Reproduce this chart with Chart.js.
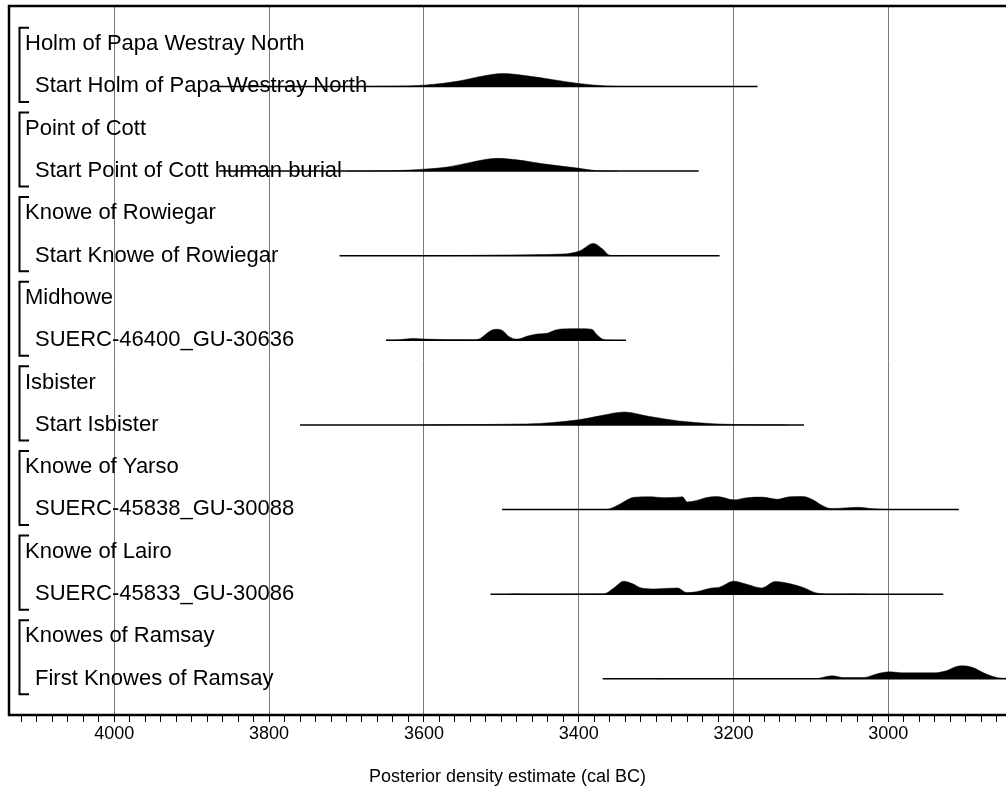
<!DOCTYPE html>
<html lang="en">
<head>
    <meta charset="UTF-8">
    <title>Posterior density estimates</title>
    <style>
        body { margin: 0; background: #fff; }
    </style>
</head>
<body>
    <canvas id="myChart" width="1006" height="792"></canvas>

    <script src="https://cdn.jsdelivr.net/npm/chart.js"></script>
    <script>
        // group headings and the sample/boundary plotted under each
        const groupNames = ['Holm of Papa Westray North', 'Point of Cott', 'Knowe of Rowiegar', 'Midhowe',
            'Isbister', 'Knowe of Yarso', 'Knowe of Lairo', 'Knowes of Ramsay'];
        const sampleNames = ['Start Holm of Papa Westray North', 'Start Point of Cott human burial',
            'Start Knowe of Rowiegar', 'SUERC-46400_GU-30636', 'Start Isbister',
            'SUERC-45838_GU-30088', 'SUERC-45833_GU-30086', 'First Knowes of Ramsay'];

        // range line under each distribution (cal BC)
        const rangeStart = [3867, 3865, 3709, 3649, 3760, 3499, 3514, 3369];
        const rangeEnd = [3169, 3245, 3218, 3339, 3109, 2909, 2929, 2800];

        // relative posterior densities (peak = 1)
        const holmYears = [3700, 3640, 3600, 3575, 3553, 3527, 3498, 3467, 3433, 3400, 3364, 3340];
        const holmDens = [0, 0.02, 0.1, 0.25, 0.44, 0.77, 1.0, 0.82, 0.52, 0.23, 0.04, 0];

        const cottYears = [3700, 3644, 3600, 3570, 3540, 3506, 3480, 3446, 3399, 3377, 3350];
        const cottDens = [0, 0.02, 0.15, 0.31, 0.67, 0.98, 0.87, 0.56, 0.21, 0.03, 0];

        const rowiegarYears = [3600, 3549, 3463, 3420, 3399, 3381, 3370, 3360, 3350];
        const rowiegarDens = [0, 0.02, 0.08, 0.13, 0.36, 0.95, 0.56, 0.04, 0];

        const midhoweYears = [3649, 3635, 3614, 3600, 3570, 3536, 3527, 3519, 3512, 3504, 3497, 3491, 3482,
            3476, 3467, 3454, 3441, 3431, 3422, 3398, 3383, 3377, 3369, 3364, 3355];
        const midhoweDens = [0, 0.02, 0.15, 0.1, 0.05, 0.04, 0.15, 0.52, 0.8, 0.85, 0.69, 0.33, 0.1,
            0.12, 0.31, 0.48, 0.54, 0.77, 0.88, 0.9, 0.85, 0.46, 0.08, 0.02, 0];

        const isbisterYears = [3600, 3577, 3467, 3400, 3371, 3341, 3310, 3271, 3227, 3200, 3162, 3130];
        const isbisterDens = [0, 0.02, 0.08, 0.4, 0.72, 1.0, 0.67, 0.31, 0.1, 0.04, 0.01, 0];

        const yarsoYears = [3380, 3364, 3349, 3328, 3308, 3290, 3272, 3266, 3260, 3248, 3236, 3221, 3200,
            3182, 3164, 3143, 3128, 3110, 3098, 3086, 3074, 3056, 3038, 3023, 3008, 2995];
        const yarsoDens = [0, 0.01, 0.36, 0.95, 0.98, 0.92, 0.95, 0.98, 0.59, 0.69, 0.92, 1.0, 0.75,
            0.92, 0.96, 0.79, 0.98, 1.0, 0.77, 0.33, 0.08, 0.13, 0.18, 0.08, 0.02, 0];

        const lairoYears = [3490, 3481, 3470, 3368, 3355, 3342, 3331, 3319, 3301, 3290, 3272, 3261, 3248,
            3230, 3218, 3200, 3182, 3164, 3146, 3128, 3110, 3092, 3069, 3045, 3027];
        const lairoDens = [0, 0.02, 0, 0.02, 0.46, 1.0, 0.82, 0.48, 0.41, 0.44, 0.48, 0.13, 0.18,
            0.46, 0.54, 1.0, 0.75, 0.48, 0.98, 0.82, 0.52, 0.08, 0, 0.02, 0];

        const ramsayYears = [3300, 3265, 3093, 3073, 3058, 3032, 3015, 2998, 2981, 2942, 2925, 2912, 2903,
            2890, 2877, 2860, 2848, 2830];
        const ramsayDens = [0, 0.02, 0.02, 0.23, 0.1, 0.1, 0.38, 0.54, 0.46, 0.46, 0.62, 0.95, 1.0,
            0.85, 0.46, 0.1, 0.04, 0];

        const distYears = [holmYears, cottYears, rowiegarYears, midhoweYears, isbisterYears, yarsoYears, lairoYears, ramsayYears];
        const distDens = [holmDens, cottDens, rowiegarDens, midhoweDens, isbisterDens, yarsoDens, lairoDens, ramsayDens];

        const tickLabels = [4000, 3800, 3600, 3400, 3200, 3000];
        const minorStep = 20;

        const peakRows = 0.307;     // peak height in row units
        const baseOffset = 0.075;   // line sits a little under the label centre

        const datasets = [];
        for (let g = 0; g < groupNames.length; g++) {
            const base = 2 * g + 1 + baseOffset;
            datasets.push({
                data: distYears[g].map((yr, i) => ({ x: yr, y: base - distDens[g][i] * peakRows })),
                borderColor: '#000',
                borderWidth: 0.5,
                backgroundColor: '#000',
                fill: { value: base },
                pointRadius: 0,
                cubicInterpolationMode: 'monotone'
            });
            datasets.push({
                data: [{ x: rangeStart[g], y: base }, { x: rangeEnd[g], y: base }],
                borderColor: '#000',
                borderWidth: 1.5,
                fill: false,
                pointRadius: 0
            });
        }

        const labelFont = '22px "Liberation Sans", Arial, sans-serif';

        // group names, sample names and brackets
        const rowLabels = {
            id: 'rowLabels',
            beforeDatasetsDraw(chart) {
                const ctx = chart.ctx;
                const y = chart.scales.y;
                const left = chart.chartArea.left;
                ctx.save();
                ctx.fillStyle = '#000';
                ctx.font = labelFont;
                ctx.textBaseline = 'middle';
                ctx.textAlign = 'left';
                for (let g = 0; g < groupNames.length; g++) {
                    ctx.fillText(groupNames[g], left + 16, y.getPixelForValue(2 * g) + 3);
                    ctx.fillText(sampleNames[g], left + 26, y.getPixelForValue(2 * g + 1) + 3);

                    const top = y.getPixelForValue(2 * g - 0.31);
                    const bottom = y.getPixelForValue(2 * g + 1.44);
                    ctx.strokeStyle = '#000';
                    ctx.lineWidth = 2;
                    ctx.beginPath();
                    ctx.moveTo(left + 20, top);
                    ctx.lineTo(left + 10.5, top);
                    ctx.lineTo(left + 10.5, bottom);
                    ctx.lineTo(left + 20, bottom);
                    ctx.stroke();
                }
                ctx.restore();
            }
        };

        // plot frame (no right edge visible)
        const frame = {
            id: 'frame',
            afterDraw(chart) {
                const { ctx, chartArea: a } = chart;
                ctx.save();
                ctx.strokeStyle = '#000';
                ctx.lineWidth = 2.5;
                ctx.beginPath();
                ctx.moveTo(a.right + 2, a.top);
                ctx.lineTo(a.left, a.top);
                ctx.lineTo(a.left, a.bottom);
                ctx.lineTo(a.right + 2, a.bottom);
                ctx.stroke();
                ctx.restore();
            }
        };

        const chart = new Chart(document.getElementById('myChart'), {
            type: 'line',
            data: { datasets: datasets },
            plugins: [rowLabels, frame],
            options: {
                responsive: false,
                animation: false,
                layout: { padding: { left: 9, top: 6, right: 0, bottom: 0 } },
                plugins: {
                    legend: { display: false },
                    tooltip: { enabled: false }
                },
                scales: {
                    x: {
                        type: 'linear',
                        min: 2848,
                        max: 4136,
                        reverse: true,
                        afterBuildTicks(scale) {
                            const ticks = [];
                            const first = Math.ceil(scale.min / minorStep) * minorStep;
                            for (let v = first; v <= scale.max; v += minorStep) ticks.push({ value: v });
                            scale.ticks = ticks;
                        },
                        afterFit(scale) { scale.height = 77; },
                        border: { display: false },
                        grid: {
                            color: (c) => (c.tick && tickLabels.includes(c.tick.value)) ? '#7a7a7a' : 'rgba(0,0,0,0)',
                            tickColor: '#000',
                            tickLength: 7,
                            lineWidth: 1
                        },
                        ticks: {
                            autoSkip: false,
                            maxRotation: 0,
                            padding: 1,
                            color: '#000',
                            font: { family: '"Liberation Sans", Arial, sans-serif', size: 18 },
                            callback: (v) => tickLabels.includes(v) ? String(v) : ''
                        },
                        title: {
                            display: true,
                            text: 'Posterior density estimate (cal BC)',
                            color: '#000',
                            padding: { top: 0, bottom: 4 },
                            font: { family: '"Liberation Sans", Arial, sans-serif', size: 18 }
                        }
                    },
                    y: {
                        type: 'linear',
                        display: false,
                        min: -0.827,
                        max: 15.93,
                        reverse: true
                    }
                }
            }
        });
    </script>
</body>
</html>
